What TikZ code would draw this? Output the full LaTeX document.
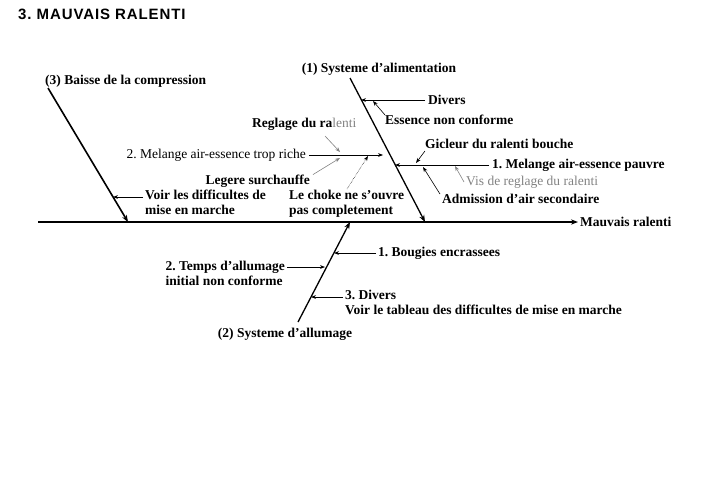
\documentclass[tikz,border=0pt]{standalone}
\usepackage{fontspec}
\setmainfont{Liberation Serif}
\setsansfont{Liberation Sans}
\usetikzlibrary{positioning}
\usetikzlibrary{arrows.meta}
\definecolor{greytext}{RGB}{130,130,130}
\frenchspacing

\begin{document}
\begin{tikzpicture}[x=1pt,y=-1pt,
		lbl/.style={inner sep=0pt, font=\fontsize{13.5}{14.5}\selectfont\bfseries, align=left},
		plain/.style={inner sep=0pt, font=\fontsize{13.5}{14.5}\selectfont, align=left},
		spine/.style={-{Stealth[length=7pt]}, line width=1.6pt},
		bone/.style={-{Stealth[length=7pt]}, line width=1.3pt},
		twig/.style={-{Stealth[length=5pt]}, line width=0.6pt},
		dotarrow/.style={-{Stealth[length=5pt]}, line width=0.5pt, densely dotted}
	]
		\useasboundingbox (0,0) rectangle (706,480);
		\node[anchor=west, inner sep=0pt, font=\sffamily\bfseries\fontsize{15}{16}\selectfont\addfontfeature{LetterSpace=6}] (title) at (18,14) {3. MAUVAIS RALENTI};

		% spine
		\coordinate (s0) at (38,222);
		\node[lbl, anchor=west] (effect) at (580,222) {Mauvais ralenti};
		\draw[spine] (s0) -- ([xshift=-2pt]effect.west);

		% (1) alimentation
		\node[lbl, anchor=south] (c1) at (379,76) {(1) Systeme d'alimentation};
		\coordinate (b1top) at (350,78);
		\coordinate (b1end) at (425,222);
		\draw[bone] (b1top) -- (b1end);
		\coordinate (b1a) at (361,100);
		\coordinate (b1b) at (383,155);
		\coordinate (b1c) at (395,165);
		\node[lbl, anchor=west] (divers) at (428,100) {Divers};
		\draw[twig] ([xshift=-3pt]divers.west) -- (b1a);
		\node[lbl, anchor=west] (essence) at (385,120) {Essence non conforme};
		\coordinate (ess) at (373,101);
		\draw[twig] (essence.north west) -- (ess);
		\node[lbl, anchor=west] (pauvre) at (492,165) {1. Melange air-essence pauvre};
		\draw[twig] ([xshift=-3pt]pauvre.west) -- (b1c);
		\node[lbl, anchor=west] (gicleur) at (425,144) {Gicleur du ralenti bouche};
		\coordinate (gic) at (416,163);
		\draw[twig] ([yshift=-2pt]gicleur.south west) -- (gic);
		\node[plain, anchor=west, text=greytext] (vis) at (466,182) {Vis de reglage du ralenti};
		\coordinate (vis0) at (455,166);
		\draw[twig, greytext] ([xshift=-2pt]vis.west) -- (vis0);
		\node[lbl, anchor=west] (admission) at (442,199) {Admission d'air secondaire};
		\coordinate (adm) at (423,167);
		\draw[twig] ([xshift=-2pt]admission.north west) -- (adm);
		\node[plain, anchor=east] (riche) at (306,155) {2. Melange air-essence trop riche};
		\draw[twig] ([xshift=3pt]riche.east) -- (b1b);
		\node[lbl, anchor=west] (reglage) at (252,124) {Reglage du ra\textcolor{greytext}{\mdseries lenti}};
		\coordinate (reg) at (340,152);
		\draw[twig, greytext] (325,136) -- (reg);
		\node[lbl, anchor=east] (surchauffe) at (310,181) {Legere surchauffe};
		\coordinate (sur) at (340,158);
		\draw[twig, greytext] ([xshift=3pt]surchauffe.north east) -- (sur);
		\node[lbl, anchor=north west] (choke) at (289,190) {Le choke ne s'ouvre\\pas completement};
		\coordinate (cho) at (368,156);
		\draw[dotarrow] (347,189) -- (cho);

		% (3) compression
		\node[lbl, anchor=west] (c3) at (45,81) {(3) Baisse de la compression};
		\coordinate (b3top) at (48,88);
		\coordinate (b3end) at (128,222);
		\draw[bone, line width=1.6pt] (b3top) -- (b3end);
		\node[lbl, anchor=north west] (voir) at (145,190) {Voir les difficultes de\\mise en marche};
		\draw[twig] (143,197) -- (113,197);

		% (2) allumage
		\node[lbl, anchor=north] (c2) at (285,328) {(2) Systeme d'allumage};
		\coordinate (b2bot) at (298,322);
		\coordinate (b2end) at (350,222);
		\draw[bone] (b2bot) -- (b2end);
		\node[lbl, anchor=west] (bougies) at (378,253) {1. Bougies encrassees};
		\draw[twig] ([xshift=-2pt]bougies.west) -- (334,253);
		\node[lbl, anchor=north east] (temps) at (285,261) {2. Temps d'allumage\\initial non conforme};
		\draw[twig] (287,267) -- (325,267);
		\node[lbl, anchor=north west] (divers2) at (345,290) {3. Divers\\Voir le tableau des difficultes de mise en marche};
		\draw[twig] (343,297) -- (311,297);
	\end{tikzpicture}
\end{document}
